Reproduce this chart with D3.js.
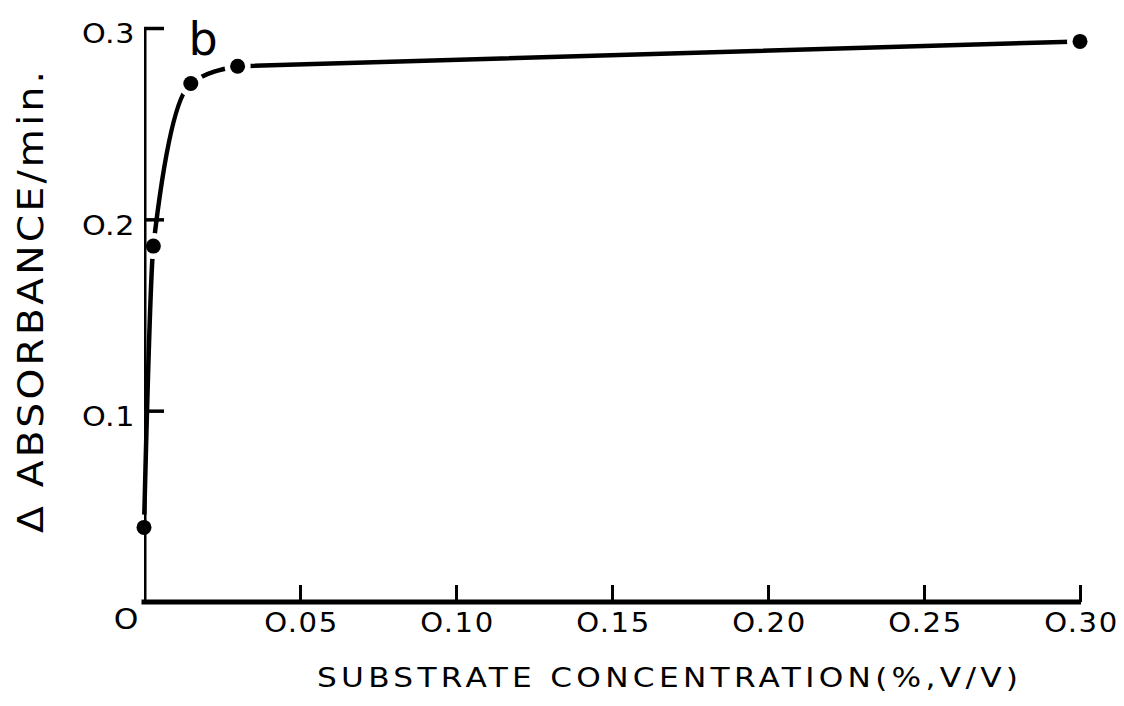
<!DOCTYPE html>
<html>
<head>
<meta charset="utf-8">
<script src="https://cdn.jsdelivr.net/npm/d3@7"></script>
<style>
  html, body { margin: 0; padding: 0; background: #fff; }
  svg { display: block; }
  text { font-family: "DejaVu Sans", sans-serif; font-weight: 400; fill: #000; }
</style>
</head>
<body>
<svg id="chart" width="1124" height="706"></svg>
<script>
// Substrate concentration (%, v/v) and the rate of change in absorbance per minute
const concentration = [0, 0.003, 0.015, 0.03, 0.30];
const rate = [0.039, 0.186, 0.271, 0.280, 0.293];

const xTicks = [0.05, 0.10, 0.15, 0.20, 0.25, 0.30];
const xTickLabels = ["O.05", "O.10", "O.15", "O.20", "O.25", "O.30"];
const yTicks = [0.1, 0.2, 0.3];
const yTickLabels = ["O.1", "O.2", "O.3"];

const W = 1124, H = 706;
const svg = d3.select("#chart");
const x = d3.scaleLinear().domain([0, 0.30]).range([144, 1080]);
const y = d3.scaleLinear().domain([0, 0.30]).range([602, 28]);

const ink = "#000";
const pts = concentration.map((c, i) => [c, rate[i]]);
const gap = 13;
const labelStretch = 1.12;

// masks: the curve breaks around every point, the y axis around points lying on it
const defs = svg.append("defs");
const curveMask = defs.append("mask").attr("id", "curve-mask")
  .attr("maskUnits", "userSpaceOnUse").attr("x", 0).attr("y", 0).attr("width", W).attr("height", H);
curveMask.append("rect").attr("width", W).attr("height", H).attr("fill", "#fff");
curveMask.selectAll("circle").data(pts).join("circle")
  .attr("cx", d => x(d[0])).attr("cy", d => y(d[1])).attr("r", gap).attr("fill", "#000");

const axisMask = defs.append("mask").attr("id", "axis-mask")
  .attr("maskUnits", "userSpaceOnUse").attr("x", 0).attr("y", 0).attr("width", W).attr("height", H);
axisMask.append("rect").attr("width", W).attr("height", H).attr("fill", "#fff");
axisMask.selectAll("circle").data(pts.filter(d => d[0] === 0)).join("circle")
  .attr("cx", d => x(d[0])).attr("cy", d => y(d[1])).attr("r", gap - 2).attr("fill", "#000");

// y axis: ticks point inward (to the right)
const yAxis = svg.append("g")
  .attr("transform", `translate(${x(0)},0)`)
  .call(d3.axisLeft(y).tickValues(yTicks).tickSize(-20)
    .tickFormat((d, i) => yTickLabels[i]));
yAxis.select(".domain").attr("stroke", ink).attr("stroke-width", 5)
  .attr("d", `M0,${y(0) + 2}V${y(0.3)}`)
  .attr("mask", "url(#axis-mask)");
yAxis.selectAll(".tick line").attr("stroke", ink).attr("stroke-width", 3.5);
yAxis.selectAll(".tick text")
  .attr("x", -8).attr("dy", "0.55em")
  .attr("transform", `scale(${labelStretch},1)`)
  .style("font-size", "27px").style("font-family", "DejaVu Sans, sans-serif")
  .style("letter-spacing", "0.5px");

// x axis: ticks point inward (upward)
const xAxis = svg.append("g")
  .attr("transform", `translate(0,${y(0)})`)
  .call(d3.axisBottom(x).tickValues(xTicks).tickSize(-17)
    .tickFormat((d, i) => xTickLabels[i]));
xAxis.select(".domain").attr("stroke", ink).attr("stroke-width", 5)
  .attr("d", `M${x(0) - 2.5},0H${x(0.30) + 1}`);
xAxis.selectAll(".tick line").attr("stroke", ink).attr("stroke-width", 3);
xAxis.selectAll(".tick text")
  .attr("y", 30).attr("dy", 0).attr("dx", 1)
  .attr("transform", `scale(${labelStretch},1)`)
  .style("font-size", "26px").style("font-family", "DejaVu Sans, sans-serif")
  .style("letter-spacing", "1.5px");

// shared origin label
svg.append("text")
  .attr("transform", `translate(${x(0) - 18},${y(0) + 27}) scale(${labelStretch},1)`)
  .attr("text-anchor", "middle")
  .style("font-size", "28px")
  .text("O");

// rate curve: smooth rise, then a straight run to the highest concentration
const rise = d3.line().x(d => x(d[0])).y(d => y(d[1])).curve(d3.curveMonotoneX);
const run = d3.line().x(d => x(d[0])).y(d => y(d[1]));
const curve = svg.append("g").attr("mask", "url(#curve-mask)")
  .attr("fill", "none").attr("stroke", ink).attr("stroke-width", 4.5).attr("stroke-linecap", "round");
curve.append("path").datum(pts.slice(0, 4)).attr("d", rise);
curve.append("path").datum(pts.slice(3)).attr("d", run);

svg.append("g").selectAll("circle").data(pts).join("circle")
  .attr("cx", d => x(d[0])).attr("cy", d => y(d[1]))
  .attr("r", 7.5).attr("fill", ink);

// panel letter
svg.append("text")
  .attr("x", 203).attr("y", 55)
  .attr("text-anchor", "middle")
  .style("font-size", "46px")
  .text("b");

// axis titles (lettering stretched a little wider than the font)
const xStretch = 1.2, yStretch = 1.12;
svg.append("text")
  .attr("transform", `translate(317,687) scale(${xStretch},1)`)
  .attr("textLength", 701 / xStretch).attr("lengthAdjust", "spacing")
  .style("font-size", "26px")
  .text("SUBSTRATE CONCENTRATION(%,V/V)");

svg.append("text")
  .attr("transform", `translate(43,533) rotate(-90) scale(${yStretch},1)`)
  .attr("textLength", 462 / yStretch).attr("lengthAdjust", "spacing")
  .style("font-size", "35px")
  .text("Δ ABSORBANCE/min.");
</script>
</body>
</html>
